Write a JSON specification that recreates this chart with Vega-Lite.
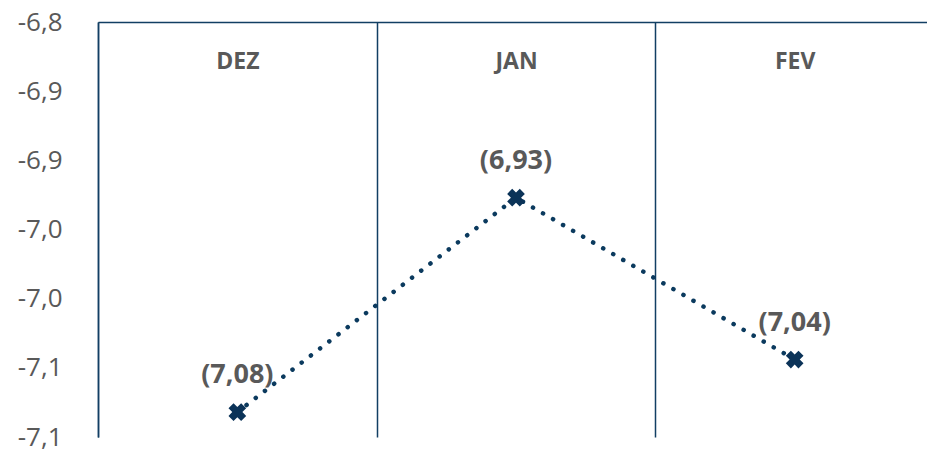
{
  "$schema": "https://vega.github.io/schema/vega-lite/v6.json",
  "width": 829,
  "height": 415,
  "autosize": {"type": "none"},
  "padding": {"left": 98, "top": 22, "right": 0, "bottom": 14},
  "background": "white",
  "config": {
    "view": {"stroke": null},
    "font": "Open Sans",
    "locale": {"number": {"decimal": ",", "thousands": ".", "grouping": [3], "currency": ["", " €"], "minus": "-"}}
  },
  "data": {"values": [
    {"mes": "DEZ", "valor": -7.082},
    {"mes": "JAN", "valor": -6.927},
    {"mes": "FEV", "valor": -7.044}
  ]},
  "encoding": {
    "x": {
      "field": "mes", "type": "nominal", "sort": null,
      "scale": {"paddingInner": 0, "paddingOuter": 0, "range": [0, 836]},
      "axis": {
        "orient": "top", "title": null, "labelAngle": 0,
        "domain": true, "domainColor": "#123f63", "domainWidth": 1.5,
        "ticks": false, "grid": true, "gridColor": "#123f63", "gridWidth": 1.5,
        "tickBand": "extent",
        "labelPadding": -51, "labelFontSize": 23, "labelFontWeight": "bold",
        "labelColor": "#595959", "labelFont": "Open Sans"
      }
    },
    "y": {
      "field": "valor", "type": "quantitative",
      "scale": {"domain": [-7.1, -6.8], "zero": false, "nice": false},
      "axis": {
        "title": null, "domain": true, "domainColor": "#123f63", "domainWidth": 1.5,
        "ticks": false, "grid": false,
        "values": [-7.1, -7.05, -7.0, -6.95, -6.9, -6.85, -6.8],
        "labelExpr": "'-' + replace(format(round(-datum.value * 10) / 10, '.1f'), '.', ',')",
        "labelFontSize": 26, "labelColor": "#595959", "labelPadding": 36,
        "labelFont": "Open Sans", "labelBound": false, "labelFlush": false
      }
    }
  },
  "layer": [
    {"mark": {"type": "line", "color": "#0b3a5e", "strokeWidth": 4.5, "strokeDash": [0.1, 11.5], "strokeCap": "round"}},
    {"mark": {"type": "point", "shape": "cross", "angle": 45, "filled": true, "size": 320, "color": "#0b3358", "opacity": 1}},
    {
      "mark": {"type": "text", "dy": -37, "fontSize": 27, "fontWeight": "bold", "color": "#595959", "font": "Open Sans"},
      "encoding": {"text": {"field": "valor", "type": "quantitative", "format": "(.2f"}}
    }
  ]
}
